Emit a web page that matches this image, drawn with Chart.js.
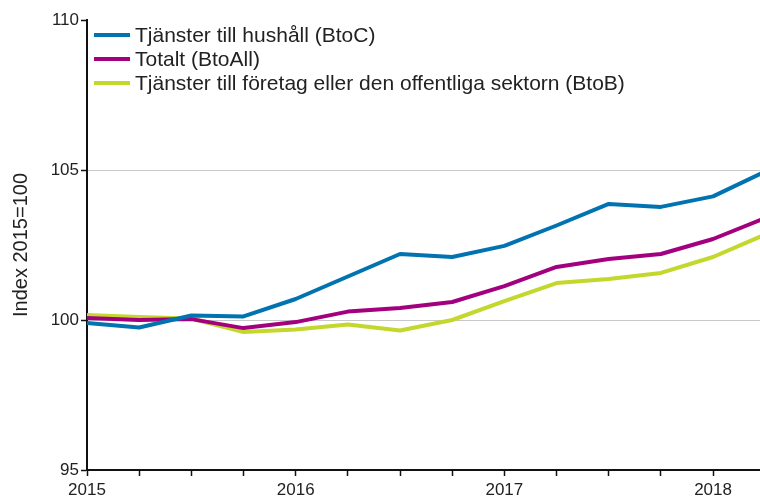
<!DOCTYPE html>
<html>
<head>
<meta charset="utf-8">
<script src="https://cdn.jsdelivr.net/npm/chart.js@4.4.1/dist/chart.umd.min.js"></script>
<style>
  html, body { margin: 0; padding: 0; background: #fff; overflow: hidden; }
  #wrap { position: relative; width: 760px; height: 498px; }
</style>
</head>
<body>
<div id="wrap"><canvas id="chart" width="760" height="498"></canvas></div>
<script>
// Kvartal 2015Q1 - 2018Q2 (sista punkten ligger precis utanför bilden)
const quarters = ['2015Q1', '2015Q2', '2015Q3', '2015Q4', '2016Q1', '2016Q2', '2016Q3', '2016Q4',
                  '2017Q1', '2017Q2', '2017Q3', '2017Q4', '2018Q1', '2018Q2'];
const yearLabels = ['2015', '2016', '2017', '2018'];
const yTicks = [95, 100, 105, 110];

const btoC   = [99.9, 99.75, 100.15, 100.12, 100.7, 101.45, 102.2, 102.1, 102.47, 103.15, 103.87, 103.77, 104.12, 104.95];
const btoAll = [100.07, 100.0, 100.03, 99.73, 99.93, 100.28, 100.4, 100.6, 101.13, 101.77, 102.03, 102.2, 102.7, 103.4];
const btoB   = [100.17, 100.1, 100.05, 99.6, 99.68, 99.85, 99.65, 100.0, 100.63, 101.23, 101.37, 101.57, 102.1, 102.85];

const seriesNames = ['Tjänster till hushåll (BtoC)', 'Totalt (BtoAll)', 'Tjänster till företag eller den offentliga sektorn (BtoB)'];
const seriesColors = ['#0073b0', '#a3007f', '#c3d72d'];

const fontFamily = '"Liberation Sans", Arial, sans-serif';

function toPoints(values) {
    return values.map((v, i) => ({ x: i, y: v }));
}

// Egen legend inne i ritytan, uppe till vänster
const innerLegend = {
    id: 'innerLegend',
    afterDraw(chart) {
        const ctx = chart.ctx;
        const left = chart.chartArea.left + 7;
        const top = chart.chartArea.top + 15;
        ctx.save();
        ctx.font = '21px ' + fontFamily;
        ctx.textBaseline = 'middle';
        seriesNames.forEach((name, i) => {
            const y = top + i * 24;
            ctx.fillStyle = seriesColors[i];
            ctx.fillRect(left, y - 2, 36, 4);
            ctx.fillStyle = '#222';
            ctx.fillText(name, left + 41, y + 1);
        });
        ctx.restore();
    }
};

const ctx = document.getElementById('chart').getContext('2d');
new Chart(ctx, {
    type: 'line',
    data: {
        datasets: [
            { label: seriesNames[0], data: toPoints(btoC), borderColor: seriesColors[0] },
            { label: seriesNames[1], data: toPoints(btoAll), borderColor: seriesColors[1] },
            { label: seriesNames[2], data: toPoints(btoB), borderColor: seriesColors[2] }
        ]
    },
    options: {
        responsive: false,
        animation: false,
        layout: { padding: { top: 20, right: 0, left: 0, bottom: 0 } },
        elements: {
            line: { borderWidth: 4, tension: 0, borderJoinStyle: 'round' },
            point: { radius: 0 }
        },
        plugins: {
            legend: { display: false },
            tooltip: { enabled: false }
        },
        scales: {
            x: {
                type: 'linear',
                min: 0,
                max: 12.9,
                afterBuildTicks: scale => {
                    scale.ticks = quarters.slice(0, 13).map((q, i) => ({ value: i }));
                },
                afterFit: scale => { scale.height = 28; },
                border: { color: '#111', width: 2 },
                grid: { drawOnChartArea: false, tickColor: '#111', tickLength: 6, tickWidth: 1.5 },
                ticks: {
                    autoSkip: false,
                    maxRotation: 0,
                    padding: 4,
                    color: '#222',
                    font: { family: fontFamily, size: 17 },
                    callback: value => (value % 4 === 0 ? yearLabels[value / 4] : '')
                }
            },
            y: {
                min: 95,
                max: 110,
                afterBuildTicks: scale => {
                    scale.ticks = yTicks.map(v => ({ value: v }));
                },
                afterFit: scale => { scale.width = 87; },
                border: { color: '#111', width: 2 },
                grid: {
                    color: c => (c.tick && (c.tick.value === 100 || c.tick.value === 105) ? '#c8c8c8' : 'rgba(0,0,0,0)'),
                    tickColor: '#111',
                    tickLength: 6,
                    tickWidth: 1.5
                },
                ticks: {
                    padding: 2,
                    color: '#222',
                    font: { family: fontFamily, size: 17 }
                },
                title: {
                    display: true,
                    text: 'Index 2015=100',
                    color: '#222',
                    font: { family: fontFamily, size: 20 },
                    padding: { top: 9, bottom: 0 }
                }
            }
        }
    },
    plugins: [innerLegend]
});
</script>
</body>
</html>
